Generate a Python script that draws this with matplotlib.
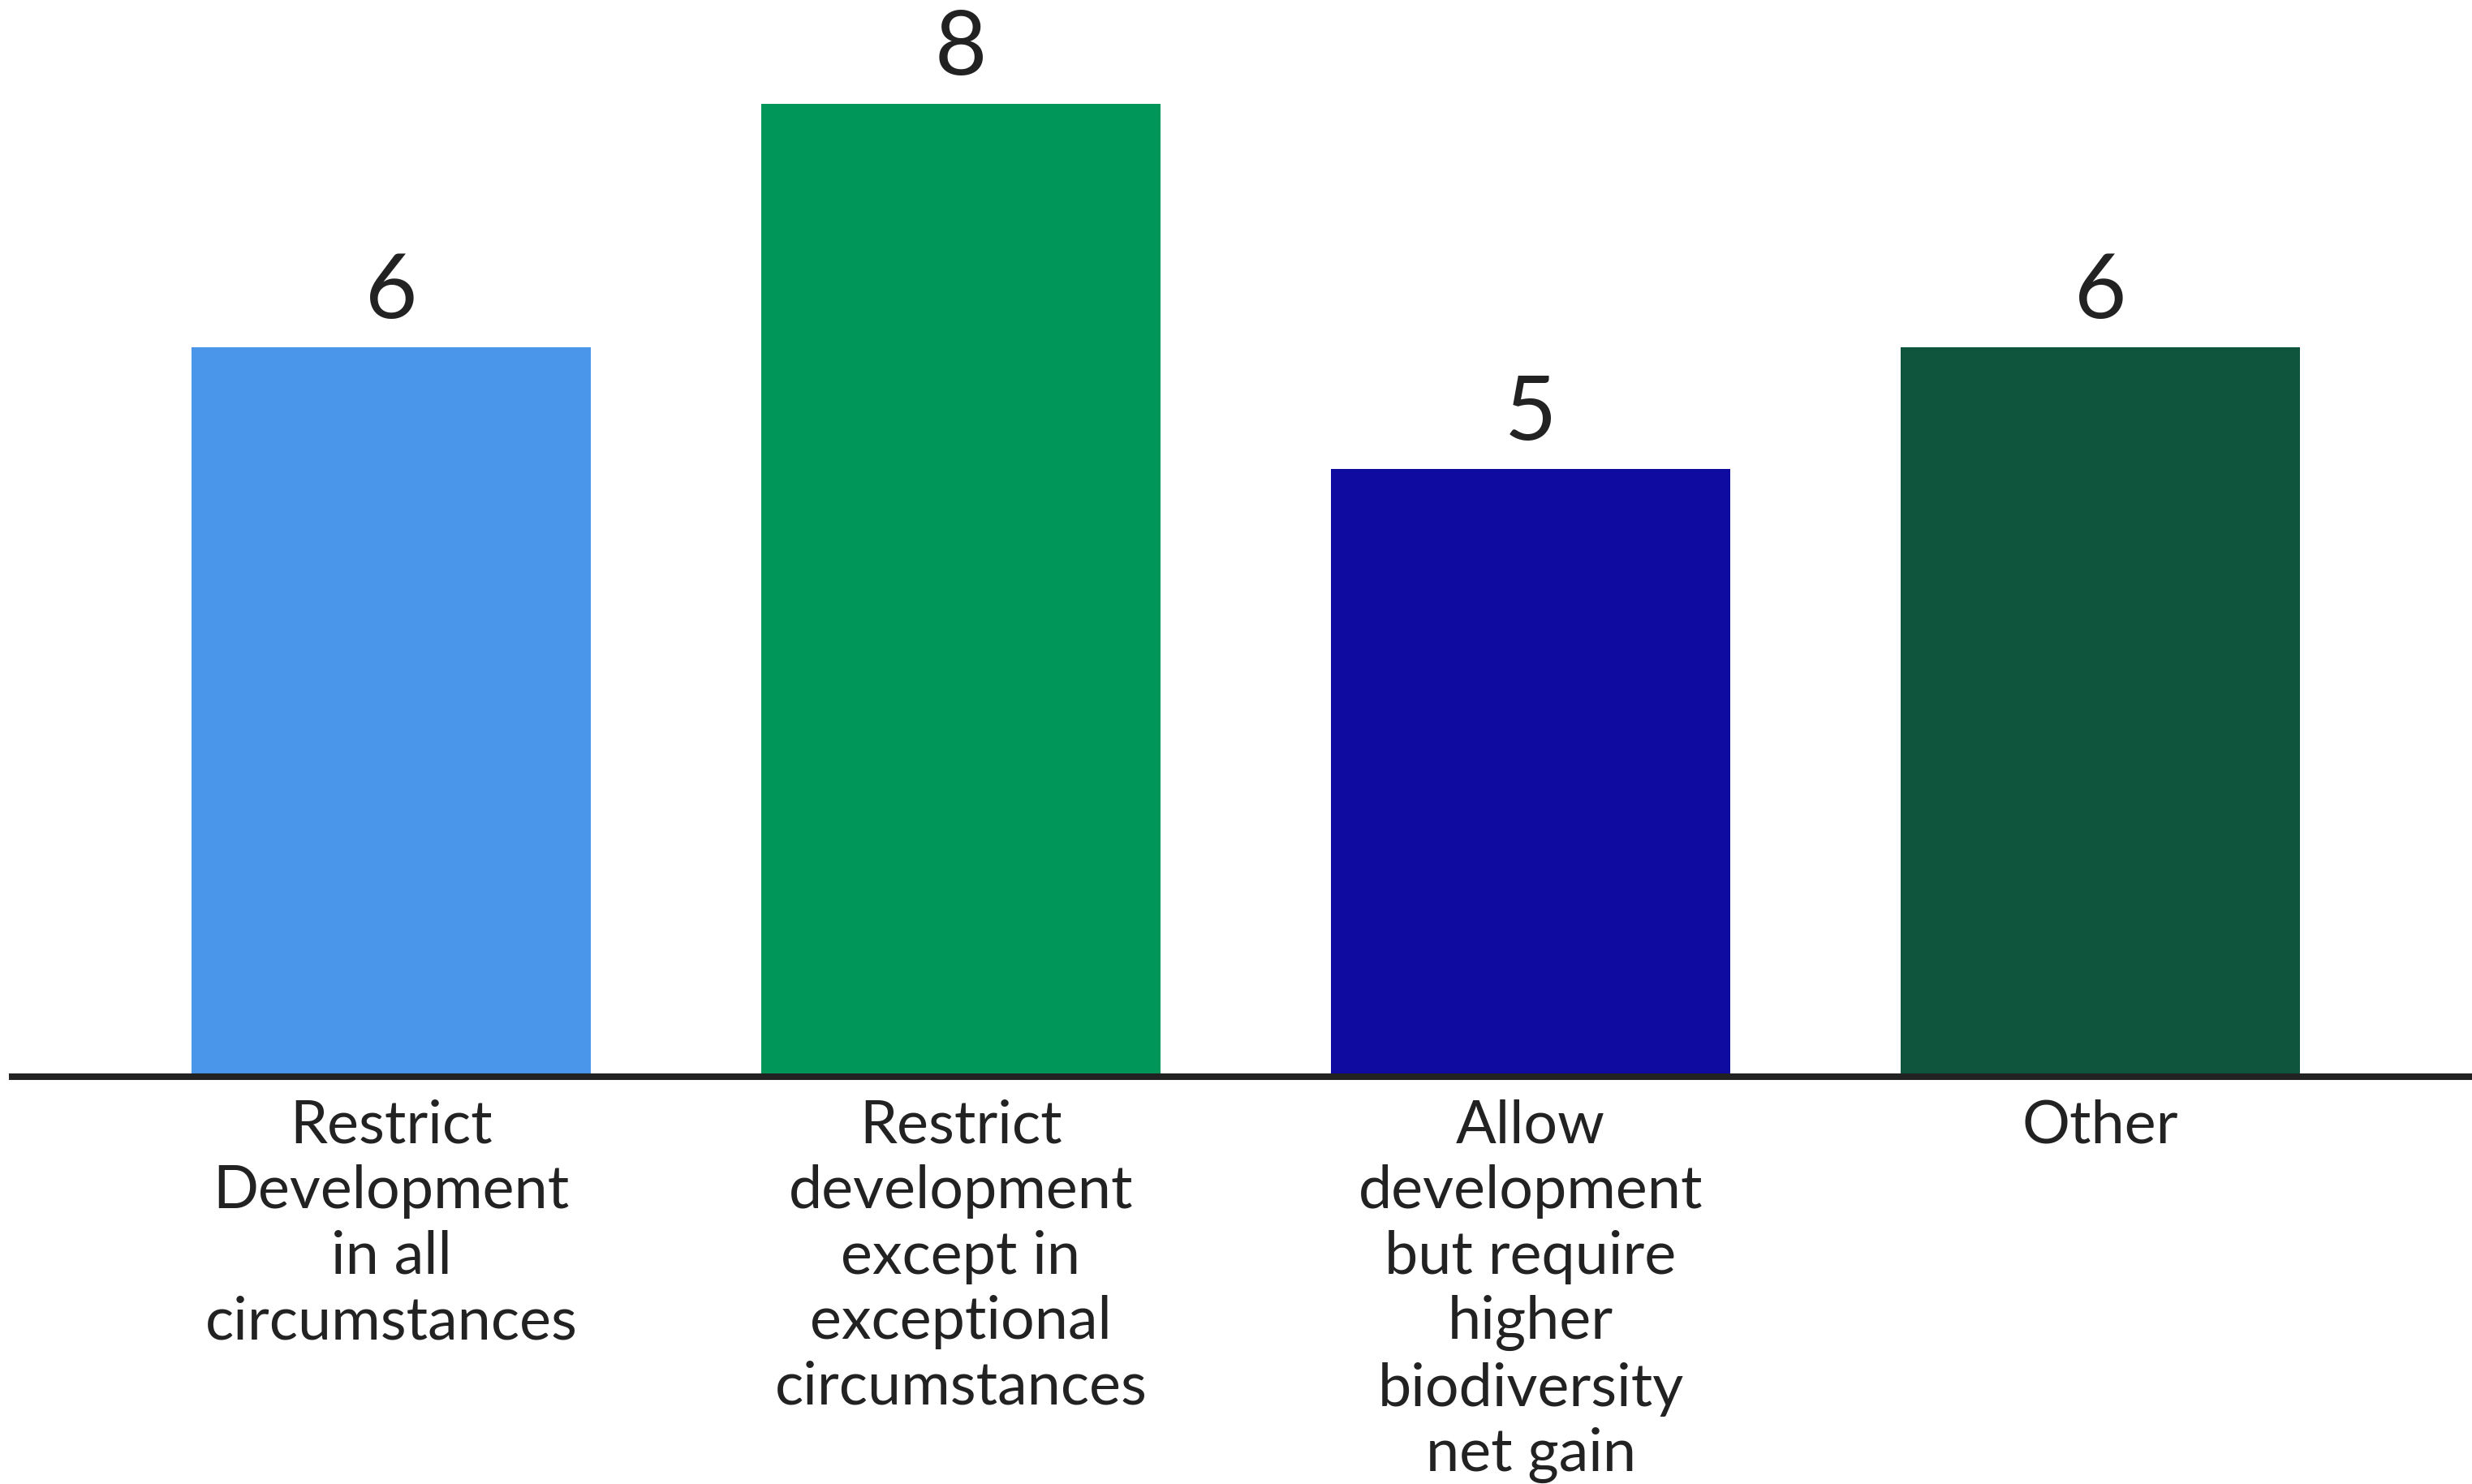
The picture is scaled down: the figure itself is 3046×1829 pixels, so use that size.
import matplotlib.pyplot as plt

# data
categories = ["Restrict\nDevelopment\nin all\ncircumstances",
              "Restrict\ndevelopment\nexcept in\nexceptional\ncircumstances",
              "Allow\ndevelopment\nbut require\nhigher\nbiodiversity\nnet gain",
              "Other"]
counts = [6, 8, 5, 6]
bar_colors = ["#4A96EA", "#00965A", "#0F0AA0", "#0F553D"]

plt.rcParams['font.family'] = ['Lato', 'DejaVu Sans']

fig = plt.figure(figsize=(30.46, 18.29), dpi=100)
ax = fig.add_axes([15 / 3046, 0.2745, 1 - 15 / 3046, 0.7255])

x = list(range(len(counts)))
ax.bar(x, counts, width=0.70, color=bar_colors)

# value labels above the bars
for xi, c in zip(x, counts):
    ax.text(xi, c + 0.11, str(c), ha='center', va='bottom',
            fontsize=80, color='#222222')

ax.set_xlim(-0.665, 3.652)
ax.set_ylim(0, 8.853)

ax.set_xticks(x)
ax.set_xticklabels(categories, fontsize=53, color='#222222', linespacing=1.25)
ax.tick_params(axis='x', length=0, pad=20)
ax.set_yticks([])

for side in ['top', 'right', 'left']:
    ax.spines[side].set_visible(False)
ax.spines['bottom'].set_linewidth(5.8)
ax.spines['bottom'].set_color('#222222')

plt.savefig("out.png", dpi=100)
